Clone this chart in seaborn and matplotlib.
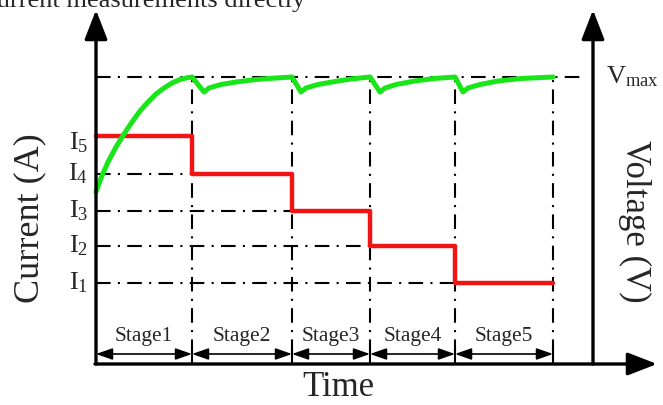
import matplotlib
matplotlib.use("Agg")
import matplotlib.pyplot as plt
import seaborn as sns

# Multi-stage constant current charging diagram (schematic units)
# stage boundaries in time units, current levels I5..I1
stage_names = ['Stage1', 'Stage2', 'Stage3', 'Stage4', 'Stage5']
stage_edges = [0, 9.6, 19.6, 27.4, 35.9, 45.7]
current_levels = [22.8, 19.0, 15.3, 11.8, 8.1]
current_labels = ['I$_{5}$', 'I$_{4}$', 'I$_{3}$', 'I$_{2}$', 'I$_{1}$']
v_max = 28.7

# voltage curve
volt_t = [0, 0.5, 1.2, 2.0, 2.8, 3.6, 4.4, 5.2, 6.0, 6.8, 7.6, 8.4, 9.0, 9.6,
          10.8, 11.3, 12.5, 14.0, 16.0, 18.0, 19.6,
          20.5, 21.0, 22.2, 23.9, 25.5, 27.4,
          28.4, 28.9, 30.0, 31.9, 33.8, 35.9,
          36.7, 37.2, 38.4, 40.2, 42.5, 45.7]
volt_v = [17.2, 18.6, 20.2, 21.7, 23.0, 24.2, 25.3, 26.2, 27.0, 27.6, 28.1, 28.45, 28.6, 28.7,
          27.2, 27.6, 27.95, 28.2, 28.45, 28.6, 28.7,
          27.2, 27.6, 27.95, 28.25, 28.5, 28.7,
          27.2, 27.6, 27.95, 28.3, 28.55, 28.7,
          27.2, 27.6, 27.95, 28.3, 28.55, 28.7]

sns.set_style('white')
plt.rcParams['font.family'] = ['Liberation Serif', 'DejaVu Serif']
plt.rcParams['mathtext.fontset'] = 'custom'
plt.rcParams['mathtext.rm'] = 'Liberation Serif'
plt.rcParams['mathtext.it'] = 'Liberation Serif:italic'
plt.rcParams['mathtext.default'] = 'rm'

fig = plt.figure(figsize=(6.63, 4.05), dpi=100)
ax = fig.add_axes([0, 0, 1, 1])
ax.set_xlim(-9.6, 56.7)
ax.set_ylim(-4.1, 36.4)
ax.set_axis_off()

dd = dict(color='black', lw=1.5, dashes=(7, 3.5, 1, 3.5), solid_capstyle='butt')

# Vmax line and current reference lines
ax.plot([0, 48.9], [v_max, v_max], **dd)
for i in range(1, 5):
    ax.plot([0, stage_edges[i]], [current_levels[i], current_levels[i]], **dd)
# stage dividers
for x in stage_edges[1:]:
    ax.plot([x, x], [1.0, v_max], **dd)
    ax.plot([x, x], [0, 1.6], color='black', lw=1.5)

# current step (red) and voltage (green)
red_y = current_levels + [current_levels[-1]]
sns.lineplot(x=stage_edges, y=red_y, drawstyle='steps-post', color='#f01414', lw=3.2, ax=ax)
sns.lineplot(x=volt_t, y=volt_v, color='#18e618', lw=3.6, ax=ax)

# axes with arrows
big = dict(arrowstyle='-|>,head_length=0.9,head_width=0.35', color='black', lw=2.4,
           mutation_scale=20, shrinkA=0, shrinkB=0)
ax.annotate('', xy=(0, 35.4), xytext=(0, 0), arrowprops=big)
ax.annotate('', xy=(56.1, 0), xytext=(-0.1, 0), arrowprops=big)
ax.annotate('', xy=(49.7, 35.4), xytext=(49.7, 0), arrowprops=big)

# stage arrows and labels
small = dict(arrowstyle='<|-|>,head_length=1.0,head_width=0.35', color='black', lw=1.2,
             mutation_scale=10, shrinkA=0, shrinkB=0)
for i, name in enumerate(stage_names):
    a, b = stage_edges[i], stage_edges[i + 1]
    ax.annotate('', xy=(b, 1.0), xytext=(a, 1.0), arrowprops=small)
    ax.text((a + b) / 2, 2.7, name, ha='center', va='center', fontsize=15.5)

# current level labels
for lvl, lab in zip(current_levels, current_labels):
    y = lvl - 0.7 if lab == current_labels[0] else lvl
    ax.text(-0.8, y, lab, ha='right', va='center', fontsize=19)

ax.text(51.0, 28.1, 'V$_{\\mathrm{max}}$', ha='left', va='baseline', fontsize=19)

ax.text(-6.6, 14.6, 'Current (A)', rotation=90, ha='center', va='center', fontsize=26)
ax.text(53.9, 14.3, 'Voltage (V)', rotation=270, ha='center', va='center', fontsize=25)
ax.text(24.2, -2.4, 'Time', ha='center', va='center', fontsize=25)

# cropped caption line above the figure
ax.text(20.9, 35.7, 'current measurements directly', ha='right', va='baseline', fontsize=19)

fig.savefig('out.png', dpi=100)
